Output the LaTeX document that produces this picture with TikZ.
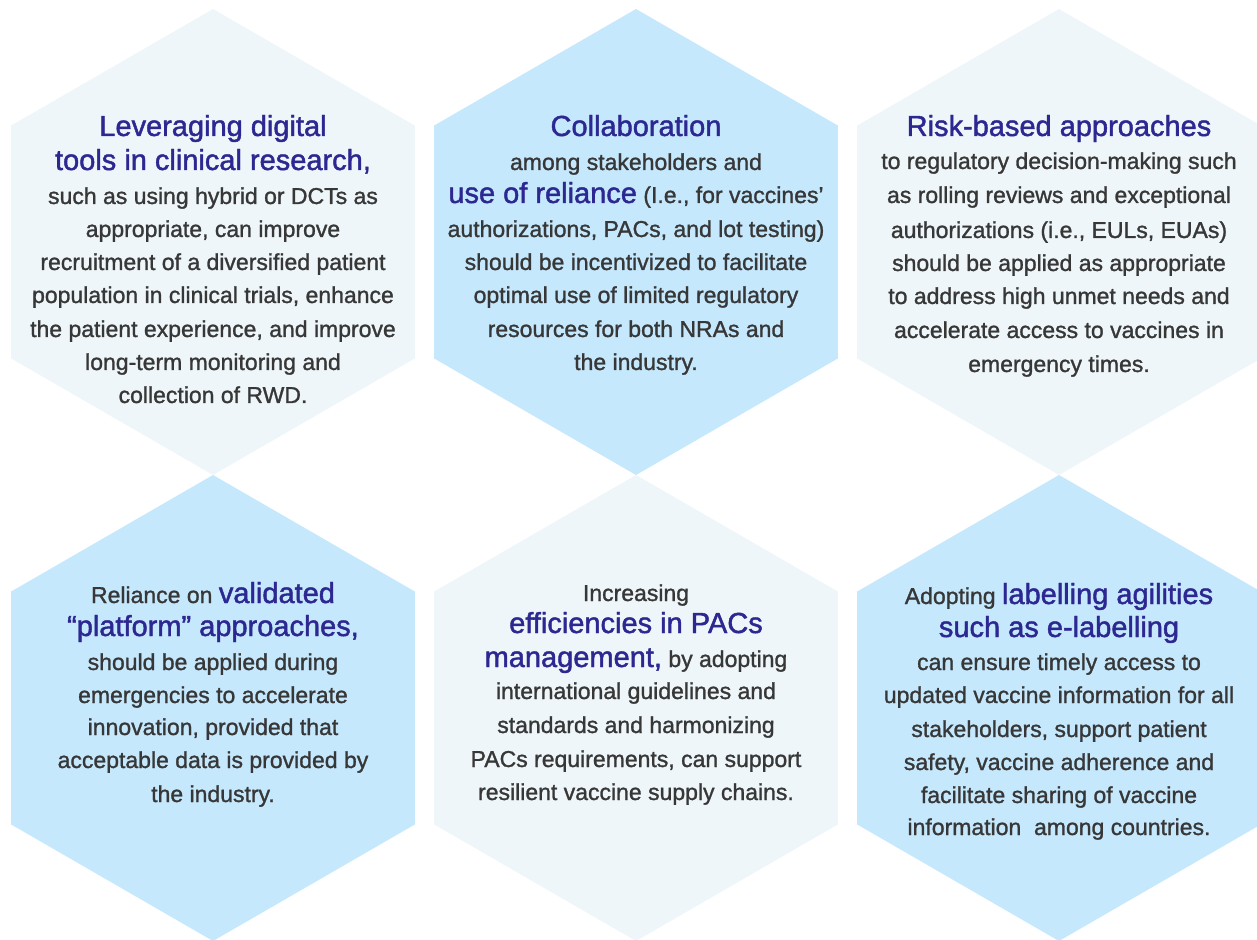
\documentclass[tikz,border=0pt]{standalone}
\usepackage{fontspec}
\setmainfont{Liberation Sans}
\newfontfamily\bodyfont{Liberation Sans}[FakeBold=1.2]
\newfontfamily\headfont{Liberation Sans}[FakeBold=1.5]
\usepackage{xcolor}
\usepackage{tikz}
\usetikzlibrary{shapes,positioning}

\definecolor{hexblue}{RGB}{197,232,253}
\definecolor{hexpale}{RGB}{238,246,249}
\definecolor{headblue}{RGB}{45,40,145}
\definecolor{bodygray}{RGB}{55,55,55}
\newcommand{\hd}[1]{{\color{headblue}\headfont\fontsize{14.5}{17}\selectfont #1}}

\begin{document}
\begin{tikzpicture}[x=0.5pt,y=-0.5pt,
  hexcell/.style={regular polygon,regular polygon sides=6,shape border rotate=30,
    minimum size=233pt,inner sep=0pt,outer sep=0pt,draw=none},
  body/.style={text=bodygray,font=\bodyfont\fontsize{11.5}{14}\selectfont,anchor=base,inner sep=0pt},
  head/.style={body,text=headblue,font=\headfont\fontsize{14.5}{17}\selectfont}]
\useasboundingbox (0,0) rectangle (1257,940);
% Hexagons - upper row
\node[hexcell,fill=hexpale] (hexTL) at (213,242) {};
\node[hexcell,fill=hexblue] (hexTM) at (636,242) {};
\node[hexcell,fill=hexpale] (hexTR) at (1059,242) {};
% Hexagons - lower row
\node[hexcell,fill=hexblue] (hexBL) at (213,708) {};
\node[hexcell,fill=hexpale] (hexBM) at (636,708) {};
\node[hexcell,fill=hexblue] (hexBR) at (1059,708) {};
% Digital tools
\node[head] (tl1) at (213,136) {Leveraging digital};
\node[head] (tl2) at (213,170) {tools in clinical research,};
\node[body] (tl3) at (213,204) {such as using hybrid or DCTs as};
\node[body] (tl4) at (213,237) {appropriate, can improve};
\node[body] (tl5) at (213,270) {recruitment of a diversified patient};
\node[body] (tl6) at (213,303) {population in clinical trials, enhance};
\node[body] (tl7) at (213,337) {the patient experience, and improve};
\node[body] (tl8) at (213,370) {long-term monitoring and};
\node[body] (tl9) at (213,403) {collection of RWD.};
% Collaboration
\node[head] (tm1) at (636,136) {Collaboration};
\node[body] (tm2) at (636,170) {among stakeholders and};
\node[body] (tm3) at (636,203) {\hd{use of reliance} (I.e., for vaccines’};
\node[body] (tm4) at (636,237) {authorizations, PACs, and lot testing)};
\node[body] (tm5) at (636,270) {should be incentivized to facilitate};
\node[body] (tm6) at (636,303) {optimal use of limited regulatory};
\node[body] (tm7) at (636,337) {resources for both NRAs and};
\node[body] (tm8) at (636,370) {the industry.};
% Risk-based approaches
\node[head] (tr1) at (1059,136) {Risk-based approaches};
\node[body] (tr2) at (1059,169) {to regulatory decision-making such};
\node[body] (tr3) at (1059,203) {as rolling reviews and exceptional};
\node[body] (tr4) at (1059,238) {authorizations (i.e., EULs, EUAs)};
\node[body] (tr5) at (1059,271) {should be applied as appropriate};
\node[body] (tr6) at (1059,304) {to address high unmet needs and};
\node[body] (tr7) at (1059,338) {accelerate access to vaccines in};
\node[body] (tr8) at (1059,372) {emergency times.};
% Platform approaches
\node[body] (bl1) at (213,603) {Reliance on \hd{validated}};
\node[head] (bl2) at (213,636) {“platform” approaches,};
\node[body] (bl3) at (213,670) {should be applied during};
\node[body] (bl4) at (213,703) {emergencies to accelerate};
\node[body] (bl5) at (213,735) {innovation, provided that};
\node[body] (bl6) at (213,768) {acceptable data is provided by};
\node[body] (bl7) at (213,802) {the industry.};
% PACs management
\node[body] (bm1) at (636,601) {Increasing};
\node[head] (bm2) at (636,633) {efficiencies in PACs};
\node[body] (bm3) at (636,667) {\hd{management,} by adopting};
\node[body] (bm4) at (636,699) {international guidelines and};
\node[body] (bm5) at (636,733) {standards and harmonizing};
\node[body] (bm6) at (636,767) {PACs requirements, can support};
\node[body] (bm7) at (636,800) {resilient vaccine supply chains.};
% Labelling agilities
\node[body] (br1) at (1059,604) {Adopting \hd{labelling agilities}};
\node[head] (br2) at (1059,637) {such as e-labelling};
\node[body] (br3) at (1059,670) {can ensure timely access to};
\node[body] (br4) at (1059,703) {updated vaccine information for all};
\node[body] (br5) at (1059,737) {stakeholders, support patient};
\node[body] (br6) at (1059,770) {safety, vaccine adherence and};
\node[body] (br7) at (1059,803) {facilitate sharing of vaccine};
\node[body] (br8) at (1059,835) {information\ \ among countries.};
\end{tikzpicture}
\end{document}
